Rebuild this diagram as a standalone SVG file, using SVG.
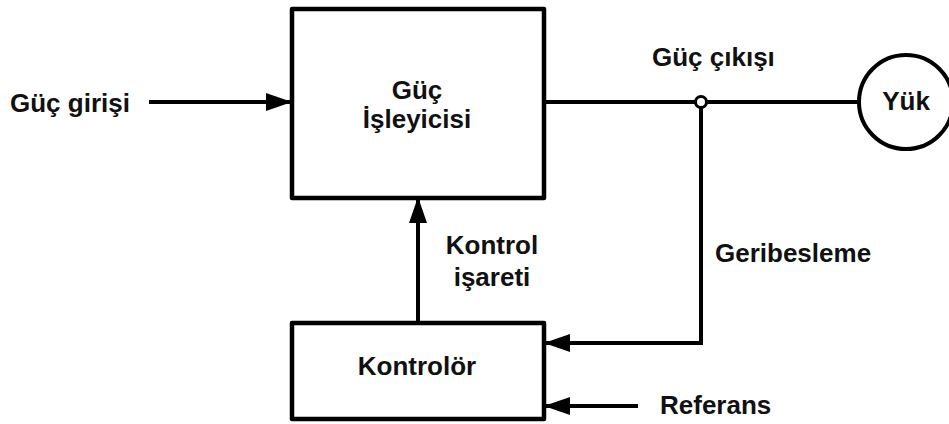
<svg xmlns="http://www.w3.org/2000/svg" width="949" height="424" viewBox="0 0 949 424">
  <defs>
    <style>
      .box { fill: #ffffff; stroke: #000000; stroke-width: 4.5; stroke-linejoin: round; }
      .wire { fill: none; stroke: #000000; stroke-width: 4; stroke-linejoin: miter; }
      .lbl { font-family: "Liberation Sans", Arial, sans-serif; font-weight: bold; font-size: 26px; fill: #111111; }
      .mid { text-anchor: middle; }
    </style>
    <marker id="arrow" viewBox="0 0 26 18" refX="25" refY="9" markerWidth="26" markerHeight="18" markerUnits="userSpaceOnUse" orient="auto">
      <path d="M0,0 L26,9 L0,18 Z" fill="#000000"/>
    </marker>
  </defs>
  <rect width="949" height="424" fill="#ffffff"/>

  <g id="connectors">
    <!-- power input -->
    <line class="wire" x1="149" y1="102" x2="291" y2="102" marker-end="url(#arrow)"/>
    <!-- power output to load -->
    <line class="wire" x1="544" y1="102" x2="858" y2="102"/>
    <!-- feedback path -->
    <polyline class="wire" points="701,102 701,343 545,343" marker-end="url(#arrow)"/>
    <!-- control signal -->
    <line class="wire" x1="418" y1="323" x2="418" y2="198" marker-end="url(#arrow)"/>
    <!-- reference -->
    <line class="wire" x1="638" y1="406" x2="545" y2="406" marker-end="url(#arrow)"/>
    <!-- junction dot -->
    <circle cx="701" cy="102" r="5.5" fill="#ffffff" stroke="#000000" stroke-width="3"/>
  </g>

  <g id="power-processor">
    <rect class="box" x="292" y="9" width="252" height="189"/>
    <text class="lbl mid" x="417" y="99">Güç</text>
    <text class="lbl mid" x="417" y="128">İşleyicisi</text>
  </g>

  <g id="controller">
    <rect class="box" x="292" y="323" width="252" height="96"/>
    <text class="lbl mid" x="417" y="375">Kontrolör</text>
  </g>

  <g id="load">
    <circle cx="906" cy="102" r="47" fill="#ffffff" stroke="#000000" stroke-width="4"/>
    <text class="lbl mid" x="906" y="110">Yük</text>
  </g>

  <g id="labels">
    <text class="lbl" x="10" y="112">Güç girişi</text>
    <text class="lbl" x="652" y="66">Güç çıkışı</text>
    <text class="lbl mid" x="492" y="254">Kontrol</text>
    <text class="lbl mid" x="492" y="286">işareti</text>
    <text class="lbl" x="715" y="262">Geribesleme</text>
    <text class="lbl" x="660" y="414">Referans</text>
  </g>
</svg>
